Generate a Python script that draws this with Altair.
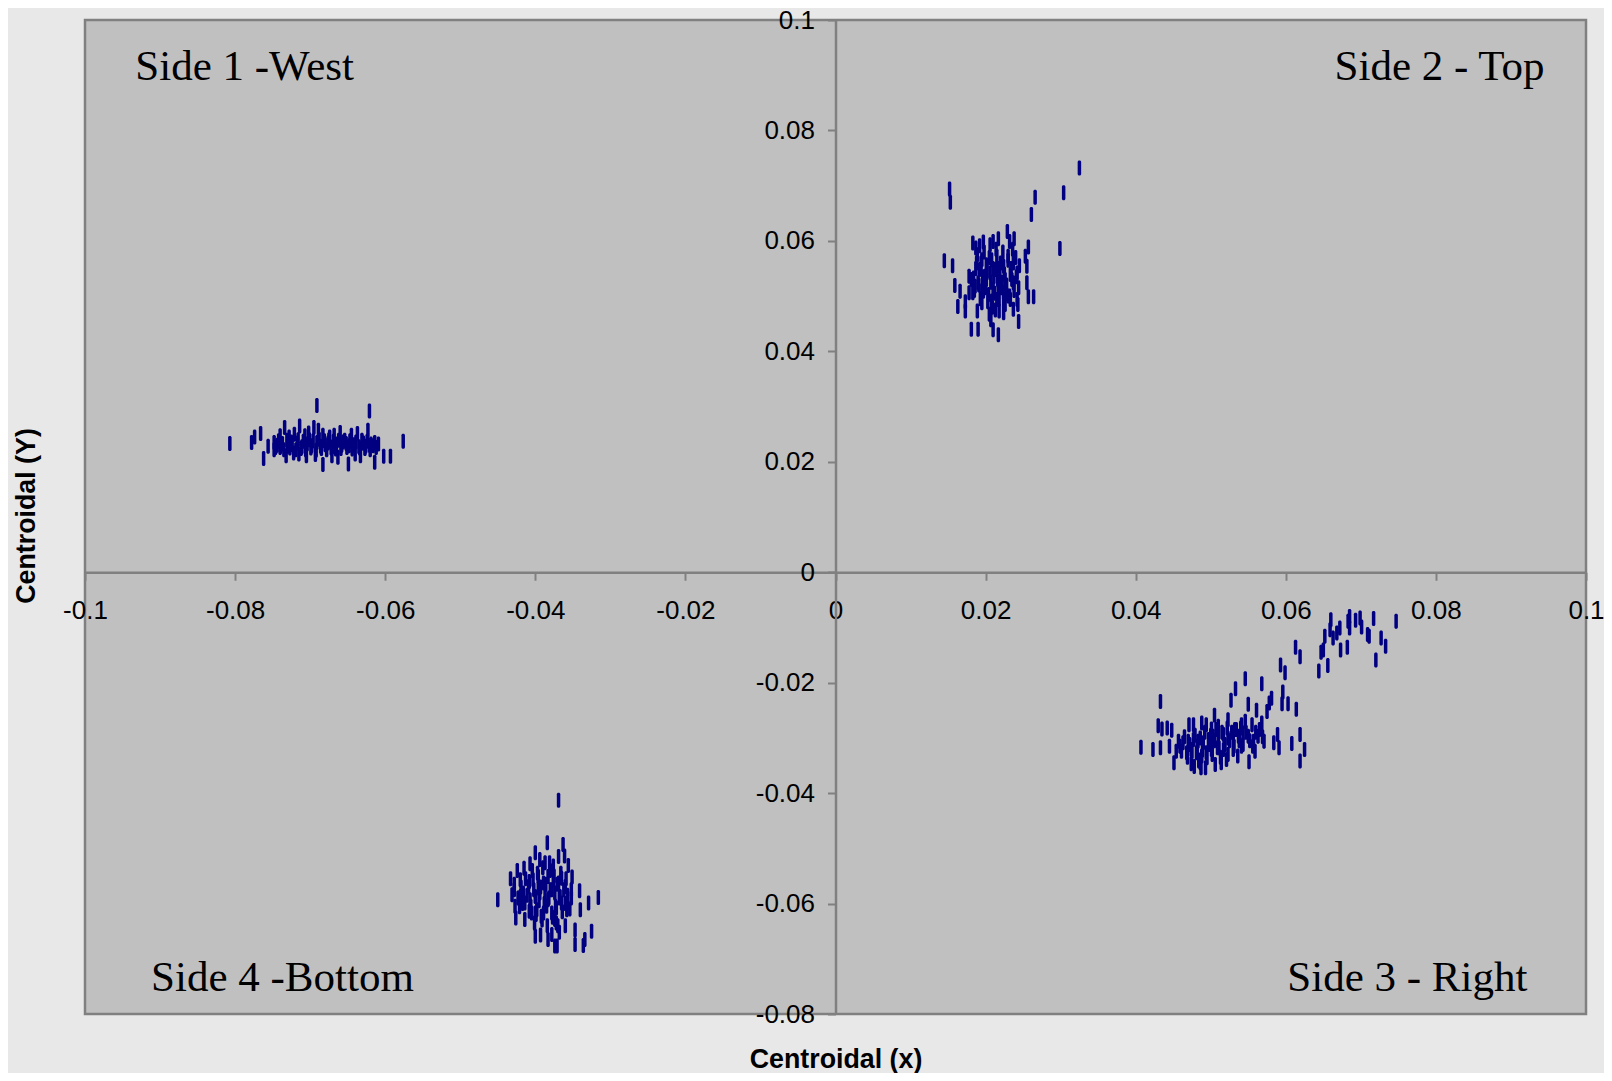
import altair as alt
import pandas as pd

west_x = [-.0807,-.0778,-.0774,-.0766,-.0762,-.0756,-.0691,-.0621,-.0576,-.0602,-.0593,
 -.0748,-.0740,-.0734,-.0728,-.0721,-.0714,-.0707,-.0702,-.0695,-.0689,-.0683,-.0674,-.0668,-.0660,-.0654,-.0645,-.0637,-.0629,-.0623,-.0614,-.0609,
 -.0748,-.0740,-.0732,-.0722,-.0715,-.0705,-.0693,-.0683,-.0671,-.0663,-.0649,-.0640,-.0633,-.0621,-.0614,
 -.0744,-.0737,-.0730,-.0724,-.0717,-.0711,-.0704,-.0698,-.0691,-.0686,-.0680,-.0676,-.0670,-.0665,-.0658,-.0652,-.0648,-.0642,-.0635,-.0630,-.0626,-.0619,-.0612,
 -.0746,-.0742,-.0739,-.0735,-.0731,-.0727,-.0725,-.0719,-.0716,-.0712,-.0709,-.0706,-.0701,-.0699,-.0696,-.0692,-.0688,-.0685,-.0681,-.0678,-.0675,-.0672,-.0669,-.0666,-.0662,-.0659,-.0656,-.0651,-.0647,-.0644,-.0639,-.0634,-.0631,-.0627,-.0624,-.0620,-.0616]
west_y = [.0233,.0235,.0245,.0251,.0206,.0228,.0302,.0292,.0237,.0210,.0210,
 .0235,.0247,.0262,.0245,.0250,.0265,.0247,.0252,.0262,.0257,.0248,.0245,.0248,.0253,.0239,.0248,.0251,.0234,.0257,.0235,.0232,
 .0222,.0226,.0211,.0216,.0214,.0211,.0213,.0195,.0211,.0208,.0196,.0214,.0211,.0230,.0199,
 .0230,.0233,.0228,.0231,.0234,.0227,.0232,.0229,.0235,.0228,.0231,.0234,.0227,.0232,.0230,.0233,.0229,.0231,.0227,.0234,.0228,.0232,.0226,
 .0226,.0238,.0229,.0222,.0239,.0225,.0236,.0222,.0240,.0224,.0237,.0222,.0240,.0225,.0238,.0221,.0241,.0224,.0238,.0222,.0240,.0225,.0237,.0223,.0239,.0224,.0236,.0226,.0238,.0223,.0236,.0225,.0239,.0224,.0237,.0222,.0229]

top_x = [.0325,.0304,.0266,.0261,.0152,.0153,.0299,.0145,.0156,.0159,.0166,.0163,.0173,.0173,.0181,.0190,.0210,.0217,.0244,.0257,.0264,
 .0229,.0238,.0217,.0183,.0197,.0206,.0210,.0192,.0187,.0232,.0257,.0253,.0255,.0255,.0242,.0244,.0242,.0237,.0224,.0218,.0205,.0207,.0189,.0178,.0178,.0183,
 .0188,.0195,.0201,.0208,.0215,.0224,.0230,.0237,.0184,.0190,.0199,.0206,.0213,.0219,.0226,.0233,.0237,.0186,.0197,.0204,.0210,.0217,.0224,.0230,.0208,.0215,.0195,.0224,.0233,.0192,
 .0181,.0185,.0187,.0189,.0191,.0193,.0194,.0196,.0198,.0200,.0202,.0203,.0205,.0207,.0209,.0210,.0212,.0214,.0216,.0218,.0220,.0221,.0223,.0225,.0226,.0228,.0230,.0232,.0234,.0235,.0236,.0238,.0240,.0241,.0243,.0245,.0195,.0201,.0211,.0217,.0222,.0213,.0227]
top_y = [.0732,.0687,.0679,.0648,.0694,.0670,.0586,.0564,.0555,.0519,.0509,.0481,.0490,.0473,.0440,.0440,.0439,.0430,.0454,.0499,.0499,
 .0617,.0604,.0604,.0596,.0598,.0593,.0599,.0591,.0587,.0599,.0589,.0572,.0554,.0524,.0542,.0515,.0494,.0476,.0470,.0473,.0467,.0457,.0473,.0536,.0506,.0506,
 .0560,.0566,.0557,.0566,.0572,.0554,.0572,.0560,.0533,.0524,.0536,.0542,.0548,.0536,.0530,.0539,.0524,.0518,.0509,.0503,.0512,.0518,.0506,.0500,.0491,.0494,.0488,.0491,.0494,.0548,
 .0530,.0510,.0550,.0575,.0520,.0495,.0560,.0535,.0580,.0515,.0545,.0490,.0570,.0525,.0480,.0550,.0505,.0585,.0530,.0495,.0560,.0515,.0580,.0540,.0485,.0520,.0565,.0500,.0550,.0530,.0585,.0510,.0570,.0535,.0485,.0555,.0510,.0530,.0535,.0550,.0525,.0475,.0505]

right_x = [.0747,.0717,.0699,.0693,.0685,.0683,.0660,.0659,.0672,.0668,.0663,.0652,.0701,.0685,.0709,.0711,.0727,.0733,.0720,.0682,.0673,.0647,.0650,.0656,.0644,
 .0613,.0619,.0593,.0599,.0546,.0568,.0533,.0527,.0596,.0595,.0603,.0614,.0581,.0578,.0575,.0550,.0561,.0433,.0407,.0423,.0430,.0435,.0433,.0442,.0448,.0445,.0451,
 .0589,.0584,.0591,.0608,.0619,.0625,.0619,.0505,.0523,.0546,.0555,.0568,.0571,.0559,.0551,.0536,.0514,.0506,.0493,.0487,.0474,
 .0471,.0477,.0488,.0494,.0501,.0510,.0532,.0541,
 .0457,.0463,.0470,.0477,.0483,.0490,.0497,.0503,.0510,.0517,.0523,.0530,.0537,.0543,.0550,.0557,.0563,
 .0454,.0461,.0468,.0474,.0481,.0488,.0494,.0501,.0509,.0517,.0523,.0530,.0541,.0484,.0521,
 .0459,.0465,.0469,.0472,.0475,.0479,.0482,.0485,.0486,.0489,.0492,.0495,.0498,.0500,.0502,.0505,.0507,.0511,.0513,.0515,.0519,.0522,.0525,.0528,.0531,.0534,.0538,.0540,.0543,.0547,.0552,.0556,.0560,.0565,.0569,.0486,.0478]
right_y = [-.0089,-.0084,-.0083,-.0087,-.0080,-.0089,-.0086,-.0104,-.0101,-.0110,-.0119,-.0116,-.0099,-.0101,-.0113,-.0116,-.0119,-.0134,-.0159,-.0136,-.0141,-.0145,-.0141,-.0169,-.0179,
 -.0136,-.0153,-.0168,-.0182,-.0193,-.0202,-.0211,-.0232,-.0217,-.0238,-.0238,-.0248,-.0228,-.0237,-.0252,-.0239,-.0250,-.0234,-.0317,-.0321,-.0278,-.0284,-.0318,-.0282,-.0286,-.0315,-.0345,
 -.0294,-.0309,-.0318,-.0310,-.0294,-.0321,-.0342,-.0259,-.0267,-.0270,-.0276,-.0273,-.0306,-.0324,-.0343,-.0333,-.0345,-.0348,-.0354,-.0354,-.0347,
 -.0276,-.0276,-.0273,-.0276,-.0284,-.0279,-.0285,-.0276,
 -.0306,-.0309,-.0306,-.0303,-.0306,-.0309,-.0303,-.0297,-.0297,-.0294,-.0300,-.0297,-.0297,-.0291,-.0297,-.0306,-.0297,
 -.0324,-.0324,-.0327,-.0321,-.0327,-.0333,-.0327,-.0321,-.0318,-.0321,-.0330,-.0321,-.0315,-.0342,-.0339,
 -.0315,-.0298,-.0335,-.0312,-.0325,-.0295,-.0315,-.0340,-.0300,-.0322,-.0290,-.0336,-.0312,-.0295,-.0330,-.0305,-.0285,-.0318,-.0335,-.0290,-.0312,-.0282,-.0305,-.0290,-.0315,-.0285,-.0305,-.0282,-.0312,-.0290,-.0305,-.0315,-.0290,-.0285,-.0298,-.0345,-.0352]

bottom_x = [-.0369,-.0384,-.0363,-.0400,-.0369,-.0361,-.0394,-.0407,-.0415,-.0387,-.0381,-.0376,-.0356,-.0351,-.0424,-.0433,-.0420,-.0450,-.0341,-.0316,-.0329,-.0340,-.0352,-.0325,-.0334,-.0336,-.0347,-.0347,-.0360,-.0368,-.0371,-.0374,-.0378,-.0383,-.0393,-.0400,-.0401,-.0426,-.0414,-.0408,-.0427,-.0431,-.0428,-.0421,
 -.0416,-.0409,-.0403,-.0396,-.0389,-.0383,-.0376,-.0369,-.0365,-.0360,-.0414,-.0407,-.0400,-.0394,-.0387,-.0380,-.0374,-.0367,-.0357,-.0405,-.0398,-.0392,-.0385,-.0378,-.0372,-.0365,-.0358,-.0374,-.0389,-.0400,-.0396,-.0383,-.0420,-.0372,
 -.0428,-.0423,-.0419,-.0417,-.0413,-.0411,-.0408,-.0406,-.0404,-.0402,-.0399,-.0397,-.0395,-.0393,-.0391,-.0390,-.0388,-.0386,-.0384,-.0382,-.0380,-.0378,-.0377,-.0375,-.0373,-.0371,-.0370,-.0368,-.0366,-.0364,-.0362,-.0360,-.0359,-.0357,-.0354,-.0352]
bottom_y = [-.0413,-.0490,-.0493,-.0508,-.0515,-.0514,-.0520,-.0528,-.0536,-.0526,-.0526,-.0532,-.0531,-.0552,-.0540,-.0555,-.0557,-.0593,-.0577,-.0589,-.0599,-.0611,-.0590,-.0650,-.0665,-.0676,-.0674,-.0648,-.0640,-.0652,-.0677,-.0677,-.0656,-.0665,-.0657,-.0659,-.0635,-.0626,-.0629,-.0614,-.0605,-.0584,-.0575,-.0606,
 -.0581,-.0569,-.0557,-.0551,-.0563,-.0551,-.0557,-.0563,-.0554,-.0569,-.0599,-.0593,-.0587,-.0581,-.0581,-.0575,-.0581,-.0587,-.0599,-.0617,-.0611,-.0623,-.0605,-.0617,-.0608,-.0599,-.0611,-.0629,-.0617,-.0617,-.0572,-.0593,-.0587,-.0635,
 -.0565,-.0590,-.0570,-.0600,-.0555,-.0585,-.0560,-.0605,-.0540,-.0575,-.0620,-.0545,-.0595,-.0570,-.0630,-.0535,-.0600,-.0565,-.0640,-.0590,-.0540,-.0575,-.0625,-.0550,-.0605,-.0565,-.0640,-.0590,-.0545,-.0615,-.0575,-.0600,-.0555,-.0585,-.0610,-.0575]

label_text = ["Side 1 -West", "Side 2 - Top", "Side 4 -Bottom", "Side 3 - Right"]
label_x = [-.0933, .0665, -.0912, .0602]
label_y = [.0892, .0892, -.0758, -.0758]

x_ticks = [-.1,-.08,-.06,-.04,-.02,0,.02,.04,.06,.08,.1]
y_ticks = [-.08,-.06,-.04,-.02,0,.02,.04,.06,.08,.1]

pts = pd.DataFrame({
    "x": west_x + top_x + right_x + bottom_x,
    "y": west_y + top_y + right_y + bottom_y,
})
labels = pd.DataFrame({"x": label_x, "y": label_y, "t": label_text})

W, H = 1501, 994
FONT = "Liberation Sans"
label_expr = "toString(round(datum.value*100)/100)"

x_enc = alt.X("x:Q", scale=alt.Scale(domain=[-.1, .1], nice=False, zero=False),
    axis=alt.Axis(values=x_ticks, orient="bottom", offset=-H*.08/.18, title="Centroidal (x)",
        grid=False, labelExpr=label_expr, labelFont=FONT, labelFontSize=26, labelColor="#000000",
        labelPadding=17, labelOverlap=False, labelFlush=False, labelBound=False,
        tickColor="#808080", tickWidth=2, tickSize=8, domainColor="#808080", domainWidth=2.5,
        titleFont=FONT, titleFontSize=26.8, titleFontWeight="bold", titleColor="#000000",
        titleX=W/2, titleY=495, titleBaseline="alphabetic"))
y_enc = alt.Y("y:Q", scale=alt.Scale(domain=[-.08, .1], nice=False, zero=False),
    axis=alt.Axis(values=y_ticks, orient="left", offset=-W/2, title="Centroidal (Y)",
        grid=False, labelExpr=label_expr, labelFont=FONT, labelFontSize=26, labelColor="#000000",
        labelPadding=13, labelOverlap=False, labelFlush=False, labelBound=False,
        tickColor="#808080", tickWidth=2, tickSize=8, domainColor="#808080", domainWidth=2.5,
        titleFont=FONT, titleFontSize=26.8, titleFontWeight="bold", titleColor="#000000",
        titleX=-801.5, titleY=495.5, titleBaseline="alphabetic", titleAngle=270))

ticks = alt.Chart(pts).mark_tick(orient="vertical", size=15, thickness=3.5, color="#000080",
                                 opacity=1, cornerRadius=1.5).encode(x=x_enc, y=y_enc)
text = alt.Chart(labels).mark_text(font="Liberation Serif", fontSize=43, align="left",
                                   baseline="alphabetic", color="#000000").encode(
    x=alt.X("x:Q"), y=alt.Y("y:Q"), text="t:N")

chart = alt.layer(ticks, text).properties(
    width=W, height=H, background="#e8e8e8",
    padding={"left": 77, "top": 12, "right": 18, "bottom": 59},
    autosize=alt.AutoSizeParams(type="none"),
).configure_view(fill="#c0c0c0", stroke="#808080", strokeWidth=2.5)

chart.save("out.html", embed_options={"renderer": "svg", "actions": False})
